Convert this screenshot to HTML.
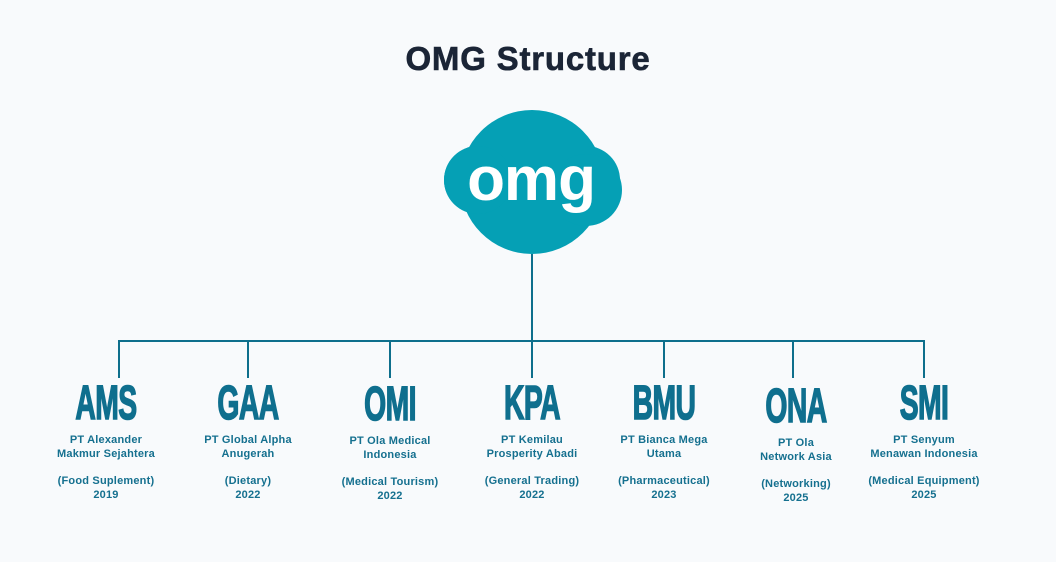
<!DOCTYPE html>
<html><head><meta charset="utf-8"><style>
body{margin:0;width:1056px;height:562px;background:#f8fafc;position:relative;overflow:hidden;font-family:"Liberation Sans",sans-serif}
.t{position:absolute;top:40px;left:0;width:1056px;text-align:center;font-weight:bold;font-size:33px;letter-spacing:0.8px;color:#1b2536;-webkit-text-stroke:0.6px #1b2536}
.col{position:absolute;width:170px;margin-left:-85px;text-align:center;color:#15708f;font-weight:bold}
.ab{font-size:48px;line-height:38px;height:38px;transform:scaleX(.59);letter-spacing:-1px;color:#0f6f8e;-webkit-text-stroke:1.6px #0f6f8e}
.s{font-size:11px;line-height:14px;margin-top:10px;letter-spacing:0.2px}
.g{height:13px}
</style></head><body>
<div class="t">OMG Structure</div>
<svg style="position:absolute;left:0;top:0" width="1056" height="562">
<g fill="#05a0b5">
<circle cx="532" cy="182" r="72"/>
<rect x="444" y="146" width="176" height="68" rx="34"/>
<circle cx="478" cy="180" r="34"/>
<circle cx="586" cy="190" r="36"/>
</g>
<text x="531" y="200" text-anchor="middle" fill="#fff" font-family="Liberation Sans" font-weight="bold" font-size="62" letter-spacing="-1">omg</text>
<g stroke="#0e6f8c" stroke-width="2" fill="none">
<line x1="532" y1="254" x2="532" y2="341"/>
<line x1="118" y1="341" x2="925" y2="341"/>
<line x1="119" y1="340" x2="119" y2="378"/>
<line x1="248" y1="340" x2="248" y2="378"/>
<line x1="390" y1="340" x2="390" y2="378"/>
<line x1="532" y1="340" x2="532" y2="378"/>
<line x1="664" y1="340" x2="664" y2="378"/>
<line x1="793" y1="340" x2="793" y2="378"/>
<line x1="924" y1="340" x2="924" y2="378"/>
</g></svg>
<div class="col" style="left:106px;top:385px"><div class="ab">AMS</div><div class="s">PT Alexander<br>Makmur Sejahtera<div class="g"></div>(Food Suplement)<br>2019</div></div>
<div class="col" style="left:248px;top:385px"><div class="ab">GAA</div><div class="s">PT Global Alpha<br>Anugerah<div class="g"></div>(Dietary)<br>2022</div></div>
<div class="col" style="left:390px;top:386px"><div class="ab">OMI</div><div class="s">PT Ola Medical<br>Indonesia<div class="g"></div>(Medical Tourism)<br>2022</div></div>
<div class="col" style="left:532px;top:385px"><div class="ab">KPA</div><div class="s">PT Kemilau<br>Prosperity Abadi<div class="g"></div>(General Trading)<br>2022</div></div>
<div class="col" style="left:664px;top:385px"><div class="ab">BMU</div><div class="s">PT Bianca Mega<br>Utama<div class="g"></div>(Pharmaceutical)<br>2023</div></div>
<div class="col" style="left:796px;top:388px"><div class="ab">ONA</div><div class="s">PT Ola<br>Network Asia<div class="g"></div>(Networking)<br>2025</div></div>
<div class="col" style="left:924px;top:385px"><div class="ab">SMI</div><div class="s">PT Senyum<br>Menawan Indonesia<div class="g"></div>(Medical Equipment)<br>2025</div></div>
</body></html>
